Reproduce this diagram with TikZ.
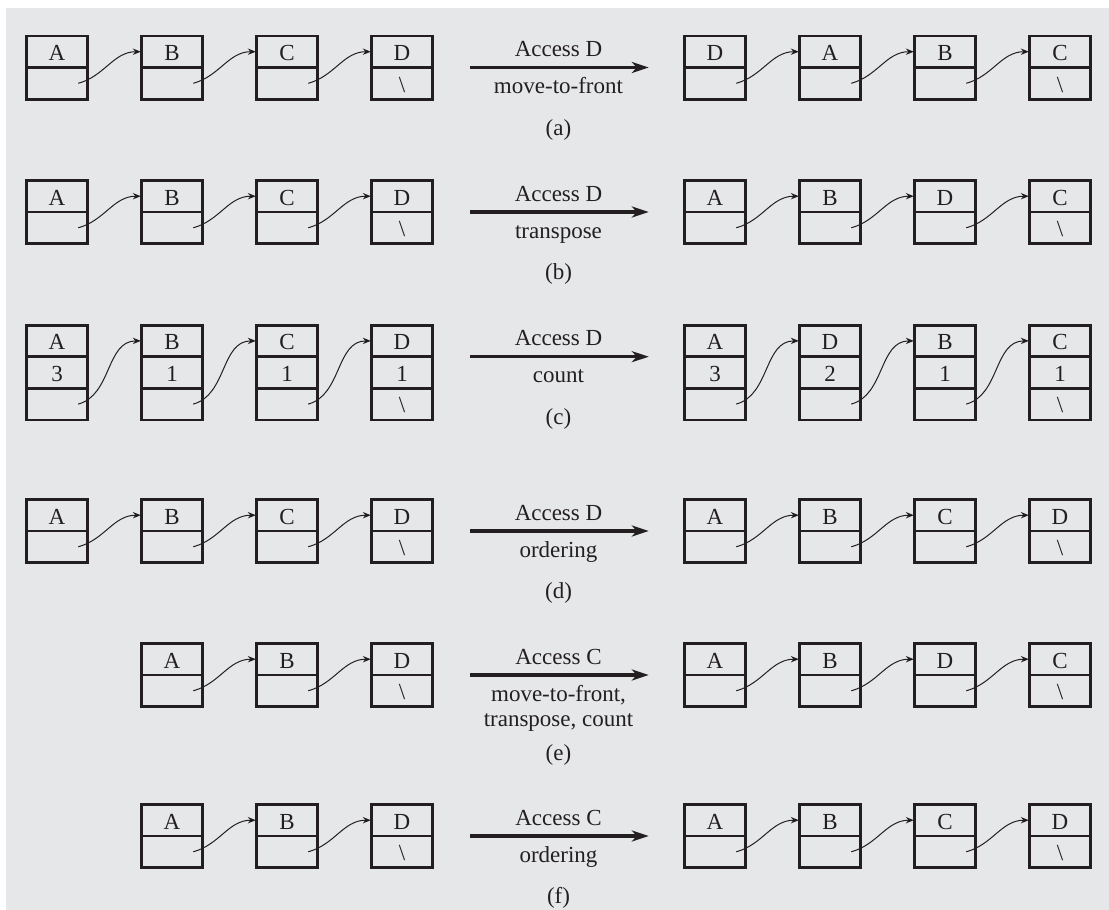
\documentclass[tikz,border=0pt]{standalone}
\usepackage{fontspec}
\setmainfont{Liberation Serif}
\usetikzlibrary{arrows.meta,shapes.multipart}
\definecolor{diagramBg}{HTML}{E6E7E9}
\definecolor{diagramInk}{HTML}{231F20}
\newcommand{\cellstrut}{\rule[-3.2pt]{0pt}{15.2pt}}
\begin{document}
\begin{tikzpicture}[
    x=0.5pt,y=-0.5pt,
    every node/.style={font=\fontsize{11.5}{13.8}\selectfont,text=diagramInk},
    cell/.style={rectangle split,rectangle split parts=2,draw=diagramInk,line width=0.6pt,
      inner xsep=0pt,inner ysep=0pt,minimum width=30.6pt,text height=12pt,text depth=3.2pt,
      rectangle split empty part height=12pt,rectangle split empty part depth=3.2pt,
      postaction={draw=diagramInk,line width=1.4pt}},
    cellc/.style={cell,rectangle split parts=3},
    link/.style={-{Stealth[length=4pt,width=3.2pt]},draw=diagramInk,line width=0.5pt,out=15,in=180},
    access/.style={-{Stealth[length=8.5pt,width=5.5pt,inset=2.5pt]},draw=diagramInk,line width=1.6pt,
      shorten <=18.5pt,shorten >=17.5pt},
    over/.style={anchor=base,yshift=5.5pt},
    under/.style={anchor=base,yshift=-13pt,align=center},
    tag/.style={yshift=-31pt}
]
\useasboundingbox (0,0) rectangle (1109,910);
\fill[diagramBg] (6,8) rectangle (1109,910);

% (a) move-to-front
\node[cell] (a1) at (57,67.5) {A};
\node[cell] (a2) at (172,67.5) {B};
\node[cell] (a3) at (287,67.5) {C};
\node[cell] (a4) at (402,67.5) {D\nodepart{two}\cellstrut\textbackslash};
\node[cell] (a5) at (715,67.5) {D};
\node[cell] (a6) at (830,67.5) {A};
\node[cell] (a7) at (945,67.5) {B};
\node[cell] (a8) at (1060,67.5) {C\nodepart{two}\cellstrut\textbackslash};
\draw[link] ([xshift=-5pt]a1.two east) to (a2.text west);
\draw[link] ([xshift=-5pt]a2.two east) to (a3.text west);
\draw[link] ([xshift=-5pt]a3.two east) to (a4.text west);
\draw[link] ([xshift=-5pt]a5.two east) to (a6.text west);
\draw[link] ([xshift=-5pt]a6.two east) to (a7.text west);
\draw[link] ([xshift=-5pt]a7.two east) to (a8.text west);
\draw[access] (a4.text split east) -- (a5.text split west)
  node[midway,over] (accessa) {Access D}
  node[midway,under] (rulea) {move-to-front}
  node[midway,tag] (taga) {(a)};

% (b) transpose
\node[cell] (b1) at (57,212) {A};
\node[cell] (b2) at (172,212) {B};
\node[cell] (b3) at (287,212) {C};
\node[cell] (b4) at (402,212) {D\nodepart{two}\cellstrut\textbackslash};
\node[cell] (b5) at (715,212) {A};
\node[cell] (b6) at (830,212) {B};
\node[cell] (b7) at (945,212) {D};
\node[cell] (b8) at (1060,212) {C\nodepart{two}\cellstrut\textbackslash};
\draw[link] ([xshift=-5pt]b1.two east) to (b2.text west);
\draw[link] ([xshift=-5pt]b2.two east) to (b3.text west);
\draw[link] ([xshift=-5pt]b3.two east) to (b4.text west);
\draw[link] ([xshift=-5pt]b5.two east) to (b6.text west);
\draw[link] ([xshift=-5pt]b6.two east) to (b7.text west);
\draw[link] ([xshift=-5pt]b7.two east) to (b8.text west);
\draw[access] (b4.text split east) -- (b5.text split west)
  node[midway,over] (accessb) {Access D}
  node[midway,under] (ruleb) {transpose}
  node[midway,tag] (tagb) {(b)};

% (c) count
\node[cellc] (c1) at (57,372.5) {A\nodepart{two}\cellstrut 3};
\node[cellc] (c2) at (172,372.5) {B\nodepart{two}\cellstrut 1};
\node[cellc] (c3) at (287,372.5) {C\nodepart{two}\cellstrut 1};
\node[cellc] (c4) at (402,372.5) {D\nodepart{two}\cellstrut 1\nodepart{three}\cellstrut\textbackslash};
\node[cellc] (c5) at (715,372.5) {A\nodepart{two}\cellstrut 3};
\node[cellc] (c6) at (830,372.5) {D\nodepart{two}\cellstrut 2};
\node[cellc] (c7) at (945,372.5) {B\nodepart{two}\cellstrut 1};
\node[cellc] (c8) at (1060,372.5) {C\nodepart{two}\cellstrut 1\nodepart{three}\cellstrut\textbackslash};
\draw[link] ([xshift=-5pt]c1.three east) to (c2.text west);
\draw[link] ([xshift=-5pt]c2.three east) to (c3.text west);
\draw[link] ([xshift=-5pt]c3.three east) to (c4.text west);
\draw[link] ([xshift=-5pt]c5.three east) to (c6.text west);
\draw[link] ([xshift=-5pt]c6.three east) to (c7.text west);
\draw[link] ([xshift=-5pt]c7.three east) to (c8.text west);
\draw[access] (c4.text split east) -- (c5.text split west)
  node[midway,over] (accessc) {Access D}
  node[midway,under] (rulec) {count}
  node[midway,tag] (tagc) {(c)};

% (d) ordering
\node[cell] (d1) at (57,531) {A};
\node[cell] (d2) at (172,531) {B};
\node[cell] (d3) at (287,531) {C};
\node[cell] (d4) at (402,531) {D\nodepart{two}\cellstrut\textbackslash};
\node[cell] (d5) at (715,531) {A};
\node[cell] (d6) at (830,531) {B};
\node[cell] (d7) at (945,531) {C};
\node[cell] (d8) at (1060,531) {D\nodepart{two}\cellstrut\textbackslash};
\draw[link] ([xshift=-5pt]d1.two east) to (d2.text west);
\draw[link] ([xshift=-5pt]d2.two east) to (d3.text west);
\draw[link] ([xshift=-5pt]d3.two east) to (d4.text west);
\draw[link] ([xshift=-5pt]d5.two east) to (d6.text west);
\draw[link] ([xshift=-5pt]d6.two east) to (d7.text west);
\draw[link] ([xshift=-5pt]d7.two east) to (d8.text west);
\draw[access] (d4.text split east) -- (d5.text split west)
  node[midway,over] (accessd) {Access D}
  node[midway,under] (ruled) {ordering}
  node[midway,tag] (tagd) {(d)};

% (e) move-to-front, transpose, count
\node[cell] (e1) at (172,675) {A};
\node[cell] (e2) at (287,675) {B};
\node[cell] (e3) at (402,675) {D\nodepart{two}\cellstrut\textbackslash};
\node[cell] (e4) at (715,675) {A};
\node[cell] (e5) at (830,675) {B};
\node[cell] (e6) at (945,675) {D};
\node[cell] (e7) at (1060,675) {C\nodepart{two}\cellstrut\textbackslash};
\draw[link] ([xshift=-5pt]e1.two east) to (e2.text west);
\draw[link] ([xshift=-5pt]e2.two east) to (e3.text west);
\draw[link] ([xshift=-5pt]e4.two east) to (e5.text west);
\draw[link] ([xshift=-5pt]e5.two east) to (e6.text west);
\draw[link] ([xshift=-5pt]e6.two east) to (e7.text west);
\draw[access] (e3.text split east) -- (e4.text split west)
  node[midway,over] (accesse) {Access C}
  node[midway,under,yshift=-12.5pt] (rulee) {move-to-front,\\[-1.3pt]transpose, count}
  node[midway,tag,yshift=-9pt] (tage) {(e)};

% (f) ordering
\node[cell] (f1) at (172,836) {A};
\node[cell] (f2) at (287,836) {B};
\node[cell] (f3) at (402,836) {D\nodepart{two}\cellstrut\textbackslash};
\node[cell] (f4) at (715,836) {A};
\node[cell] (f5) at (830,836) {B};
\node[cell] (f6) at (945,836) {C};
\node[cell] (f7) at (1060,836) {D\nodepart{two}\cellstrut\textbackslash};
\draw[link] ([xshift=-5pt]f1.two east) to (f2.text west);
\draw[link] ([xshift=-5pt]f2.two east) to (f3.text west);
\draw[link] ([xshift=-5pt]f4.two east) to (f5.text west);
\draw[link] ([xshift=-5pt]f5.two east) to (f6.text west);
\draw[link] ([xshift=-5pt]f6.two east) to (f7.text west);
\draw[access] (f3.text split east) -- (f4.text split west)
  node[midway,over] (accessf) {Access C}
  node[midway,under] (rulef) {ordering}
  node[midway,tag] (tagf) {(f)};
\end{tikzpicture}
\end{document}
